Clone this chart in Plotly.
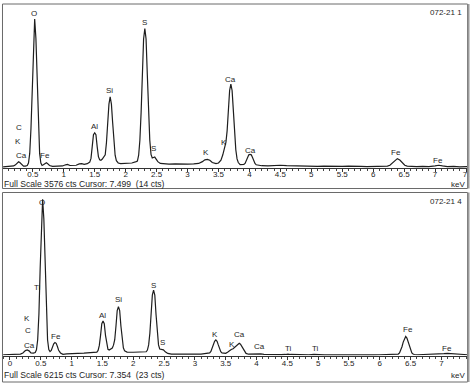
import plotly.graph_objects as go

# ---------------- data: spectrum 1 (072-21 1) ----------------
E1 = [0.02, 0.08, 0.14, 0.19, 0.22, 0.25, 0.27, 0.29, 0.32, 0.35, 0.38,
      0.41, 0.43, 0.45, 0.47, 0.49, 0.51, 0.53, 0.55, 0.57, 0.59, 0.61, 0.63, 0.65,
      0.67, 0.70, 0.72, 0.74, 0.77, 0.82, 0.90, 0.98, 1.03, 1.06, 1.10, 1.15, 1.20, 1.25, 1.29, 1.33, 1.36,
      1.38, 1.42, 1.44, 1.46, 1.48, 1.50, 1.52, 1.54, 1.56, 1.58, 1.60, 1.62,
      1.65, 1.67, 1.69, 1.71, 1.73, 1.75, 1.77, 1.79, 1.81, 1.83, 1.85, 1.88, 1.92,
      2.00, 2.10, 2.17, 2.19, 2.21, 2.23, 2.25, 2.27, 2.29, 2.31, 2.33, 2.35, 2.37, 2.39, 2.41,
      2.43, 2.45, 2.47, 2.49, 2.52, 2.56, 2.62, 2.70, 2.80, 2.90, 3.00, 3.10, 3.18,
      3.24, 3.28, 3.32, 3.36, 3.40, 3.44, 3.46, 3.50, 3.54, 3.57, 3.60, 3.62, 3.64, 3.66, 3.68,
      3.70, 3.72, 3.74, 3.76, 3.78, 3.80, 3.82, 3.85, 3.88, 3.91, 3.93, 3.95, 3.97, 3.99,
      4.01, 4.03, 4.05, 4.07, 4.09, 4.11, 4.15, 4.20, 4.30, 4.40, 4.50, 4.60, 4.70, 4.80,
      4.90, 5.00, 5.10, 5.20, 5.30, 5.40, 5.50, 5.60, 5.70, 5.80, 5.90, 6.00, 6.10, 6.20,
      6.23, 6.27, 6.31, 6.35, 6.39, 6.43, 6.47, 6.51, 6.55, 6.60, 6.70, 6.80, 6.90, 7.00,
      7.06, 7.12, 7.20, 7.30, 7.40, 7.52]
C1 = [25, 30, 35, 45, 70, 120, 138, 120, 70, 40, 40,
      55, 110, 320, 860, 1810, 2845, 3270, 2845, 1810, 860, 320, 110, 55,
      70, 110, 115, 95, 55, 35, 40, 45, 70, 80, 55, 50, 60, 90, 95, 80, 85,
      95, 130, 210, 470, 730, 770, 730, 470, 250, 180, 170, 190,
      260, 290, 560, 1000, 1400, 1560, 1400, 1000, 560, 280, 160, 110, 95,
      100, 110, 140, 150, 280, 610, 1220, 2050, 2830, 3060, 2830, 2050, 1220, 610, 300,
      220, 230, 240, 200, 140, 100, 90, 85, 90, 80, 85, 90, 100,
      140, 180, 190, 170, 120, 95, 95, 110, 170, 290, 420, 560, 820, 1270, 1700,
      1840, 1700, 1270, 770, 400, 200, 120, 75, 80, 80, 100, 160, 230, 290,
      300, 290, 230, 160, 100, 70, 55, 50, 45, 55, 60, 50, 45, 50,
      40, 45, 35, 40, 35, 45, 35, 40, 30, 35, 30, 35, 30, 35,
      40, 60, 110, 175, 205, 175, 110, 60, 40, 35, 30, 35, 30, 45,
      60, 45, 30, 35, 25, 30]

# ---------------- data: spectrum 2 (072-21 4) ----------------
E2 = [-0.11, -0.05, 0.02, 0.10, 0.17, 0.21, 0.25, 0.28, 0.31, 0.34, 0.38,
      0.41, 0.43, 0.45, 0.47, 0.49, 0.51, 0.53, 0.55, 0.57, 0.59, 0.61, 0.63,
      0.65, 0.67, 0.69, 0.71, 0.73, 0.75, 0.77, 0.79, 0.82, 0.86, 0.92, 0.98, 1.03, 1.06, 1.10, 1.20, 1.30, 1.38,
      1.41, 1.43, 1.45, 1.47, 1.49, 1.51, 1.53, 1.55, 1.57, 1.59, 1.61, 1.63,
      1.66, 1.68, 1.70, 1.72, 1.74, 1.76, 1.78, 1.80, 1.82, 1.84, 1.86, 1.90,
      2.00, 2.10, 2.16, 2.21, 2.23, 2.25, 2.27, 2.29, 2.31, 2.33, 2.35, 2.37, 2.39, 2.41,
      2.43, 2.45, 2.47, 2.49, 2.52, 2.56, 2.62, 2.70, 2.80, 2.90, 3.00, 3.10, 3.18,
      3.22, 3.24, 3.26, 3.28, 3.30, 3.32, 3.34, 3.36, 3.38, 3.40, 3.42, 3.44, 3.47,
      3.50, 3.53, 3.56, 3.59, 3.62, 3.64, 3.66, 3.68, 3.70, 3.72, 3.74, 3.76, 3.78, 3.80,
      3.83, 3.87, 3.92, 3.97, 4.02, 4.07, 4.12, 4.20, 4.30, 4.40, 4.47, 4.51, 4.55, 4.65,
      4.75, 4.85, 4.93, 5.00, 5.10, 5.20, 5.30, 5.40, 5.50, 5.60, 5.70, 5.80, 5.90, 6.00,
      6.10, 6.20, 6.28, 6.30, 6.32, 6.34, 6.36, 6.38, 6.40, 6.42, 6.44, 6.46, 6.48, 6.50,
      6.52, 6.54, 6.56, 6.62, 6.70, 6.80, 6.90, 6.98, 7.04, 7.10, 7.16, 7.22, 7.30, 7.42]
C2 = [30, 35, 40, 45, 55, 100, 190, 215, 180, 100, 90,
      115, 220, 610, 1610, 3360, 5280, 6050, 5280, 3360, 1610, 610, 230,
      150, 200, 330, 450, 500, 470, 350, 200, 100, 45, 60, 75, 90, 100, 85, 95, 100, 110,
      130, 195, 390, 780, 1230, 1335, 1230, 780, 400, 240, 210, 240,
      290, 400, 610, 1140, 1740, 1890, 1740, 1140, 610, 300, 180, 130,
      125, 130, 150, 145, 210, 410, 865, 1590, 2335, 2535, 2335, 1590, 865, 410,
      250, 230, 240, 220, 140, 80, 50, 45, 50, 45, 50, 55, 80,
      75, 100, 160, 280, 445, 550, 605, 550, 410, 260, 150, 100, 80,
      85, 130, 200, 230, 260, 300, 340, 400, 450, 470, 440, 360, 250, 150,
      80, 50, 55, 65, 75, 65, 45, 35, 30, 35, 40, 55, 40, 30,
      35, 30, 45, 30, 25, 30, 25, 30, 25, 30, 25, 30, 25, 30,
      30, 40, 38, 56, 101, 193, 339, 519, 673, 735, 673, 519, 339, 193,
      101, 56, 38, 30, 35, 30, 35, 45, 70, 80, 70, 45, 30, 30]

# ---------------- labels ----------------
LAB1_TEXT = ["O", "S", "Si", "Al", "Ca", "C", "K", "Ca", "Fe", "S", "K", "K", "Ca", "Fe", "Fe"]
LAB1_E = [0.52, 2.30, 1.74, 1.50, 3.70, 0.275, 0.26, 0.31, 0.69, 2.45, 3.30, 3.59, 4.01, 6.37, 7.05]
LAB1_C = [3400, 3200, 1690, 900, 1950, 880, 590, 285, 285, 417, 330, 550, 395, 330, 175]

LAB2_TEXT = ["O", "Ti", "K", "C", "Ca", "Fe", "Al", "Si", "S", "S", "K", "K", "Ca", "Ca", "Ti", "Ti", "Fe", "Fe"]
LAB2_E = [0.52, 0.44, 0.27, 0.29, 0.31, 0.74, 1.50, 1.76, 2.33, 2.47, 3.33, 3.60, 3.73, 4.05, 4.52, 4.96, 6.45, 7.09]
LAB2_C = [5940, 2650, 1450, 950, 405, 755, 1530, 2150, 2730, 485, 830, 445, 830, 330, 290, 290, 990, 290]

TICKS1 = [0.5, 1, 1.5, 2, 2.5, 3, 3.5, 4, 4.5, 5, 5.5, 6, 6.5, 7, 7.5]
TICKS1_TEXT = ["0.5", "1", "1.5", "2", "2.5", "3", "3.5", "4", "4.5", "5", "5.5", "6", "6.5", "7", "7."]
TICKS2 = [0, 0.5, 1, 1.5, 2, 2.5, 3, 3.5, 4, 4.5, 5, 5.5, 6, 6.5, 7]
TICKS2_TEXT = ["0", "0.5", "1", "1.5", "2", "2.5", "3", "3.5", "4", "4.5", "5", "5.5", "6", "6.5", "7"]

FULL1 = "Full Scale 3576 cts Cursor: 7.499  (14 cts)"
FULL2 = "Full Scale 6215 cts Cursor: 7.354  (23 cts)"
NAME1 = "072-21 1"
NAME2 = "072-21 4"
SCALE1 = 3576
SCALE2 = 6215

W, H = 473, 384
FONT = "Liberation Sans, Arial, sans-serif"
INK = "#1e1e1e"

fig = go.Figure()
fig.add_trace(go.Scatter(x=E1, y=C1, mode="lines", line=dict(color=INK, width=1.2),
                         xaxis="x", yaxis="y", hoverinfo="skip", showlegend=False))
fig.add_trace(go.Scatter(x=E2, y=C2, mode="lines", line=dict(color=INK, width=1.2),
                         xaxis="x2", yaxis="y2", hoverinfo="skip", showlegend=False))

def px(v):
    return v / W

def py(v):
    return 1 - v / H

def xax(rng, tv, tt, anchor, standoff):
    return dict(domain=[px(3), px(469)], range=rng, anchor=anchor,
                tickmode="array", tickvals=tv, ticktext=tt,
                showline=True, linecolor="#333", linewidth=1,
                ticks="outside", ticklen=3, tickcolor="#333", tickwidth=1,
                ticklabelstandoff=standoff,
                minor=dict(tickmode="linear", tick0=0, dtick=0.1, ticks="outside",
                           ticklen=2, tickcolor="#444", tickwidth=1, showgrid=False),
                showgrid=False, zeroline=False,
                tickfont=dict(family=FONT, size=8, color=INK), fixedrange=True)

fig.update_layout(
    width=W, height=H, margin=dict(l=0, r=0, t=0, b=0),
    paper_bgcolor="white", plot_bgcolor="white",
    xaxis=xax([0.018, 7.516], TICKS1, TICKS1_TEXT, "y", -5),
    yaxis=dict(domain=[py(168), py(5)], range=[0, SCALE1], visible=False, fixedrange=True),
    xaxis2=xax([-0.113, 7.415], TICKS2, TICKS2_TEXT, "y2", -3),
    yaxis2=dict(domain=[py(355.5), py(195)], range=[0, SCALE2], visible=False, fixedrange=True),
)

ann = []
for t, e, c in zip(LAB1_TEXT, LAB1_E, LAB1_C):
    ann.append(dict(x=e, y=c, xref="x", yref="y", text=t, showarrow=False,
                    font=dict(family=FONT, size=8, color=INK)))
for t, e, c in zip(LAB2_TEXT, LAB2_E, LAB2_C):
    ann.append(dict(x=e, y=c, xref="x2", yref="y2", text=t, showarrow=False,
                    font=dict(family=FONT, size=8, color=INK)))

def paper_text(text, x, y, xanchor, size=8):
    return dict(x=px(x), y=py(y), xref="paper", yref="paper", text=text, showarrow=False,
                xanchor=xanchor, yanchor="middle", font=dict(family=FONT, size=size, color=INK))

ann += [
    paper_text(NAME1, 466, 12, "right"),
    paper_text(FULL1, 2, 184, "left", 8.6),
    paper_text("keV", 469, 184, "right"),
    paper_text(NAME2, 466, 201, "right"),
    paper_text(FULL2, 2, 375, "left", 8.6),
    paper_text("keV", 469, 375.5, "right"),
]
fig.update_layout(annotations=ann)

shapes = []
for (y0, y1) in [(4, 188.5), (192.5, 382)]:
    shapes.append(dict(type="rect", xref="paper", yref="paper",
                       x0=px(2.5), x1=px(469.5), y0=py(y1), y1=py(y0),
                       line=dict(color="#6a6a6a", width=1)))
    shapes.append(dict(type="line", xref="paper", yref="paper",
                       x0=px(470.5), x1=px(470.5), y0=py(y1), y1=py(y0),
                       line=dict(color="#9a9a9a", width=2)))
fig.update_layout(shapes=shapes)

fig.write_html("out.html")
